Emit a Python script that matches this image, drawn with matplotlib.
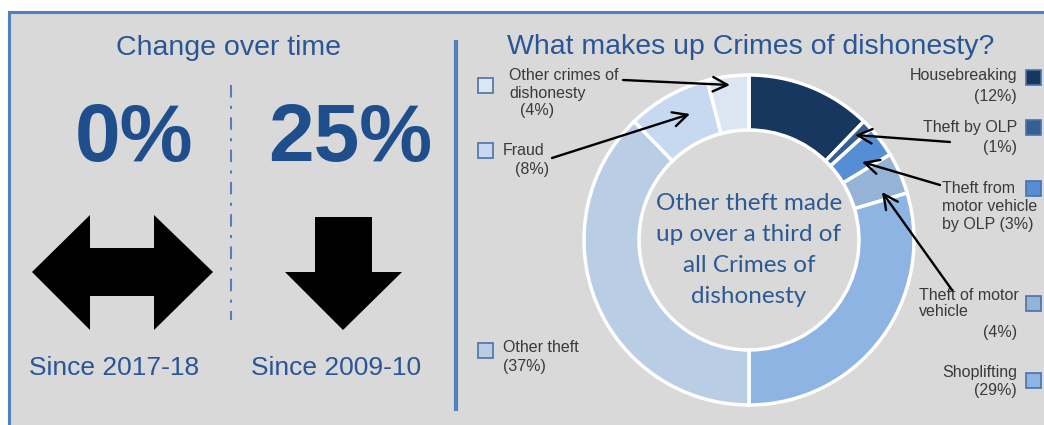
import matplotlib
matplotlib.use("Agg")
import matplotlib.pyplot as plt
from matplotlib.patches import Rectangle, Polygon

W, H = 1044, 425

# data
categories = ["Housebreaking", "Theft by OLP", "Theft from motor vehicle by OLP",
              "Theft of motor vehicle", "Shoplifting", "Other theft", "Fraud",
              "Other crimes of dishonesty"]
shares = [12, 1, 3, 4, 29, 37, 8, 4]
colours = ["#17375E", "#366092", "#558ED5", "#95B3D7", "#8DB4E2",
           "#B9CDE5", "#C6D9F1", "#DCE6F2"]
change_values = ["0%", "25%"]
change_periods = ["Since 2017-18", "Since 2009-10"]

BG = "#D9D9D9"
BORDER = "#4F81BD"
TITLE = "#2A5696"
BIG = "#1F4E8C"
LABEL = "#3A3A3A"

plt.rcParams['font.family'] = ['Liberation Sans', 'DejaVu Sans']

fig = plt.figure(figsize=(W / 100, H / 100), dpi=100, facecolor="white")
ax = fig.add_axes([0, 0, 1, 1])


def Y(y):
    # pixel rows from top -> data y
    return H - y


# panel
ax.add_patch(Rectangle((9, Y(440)), 1100, 428, facecolor=BG, edgecolor=BORDER, lw=2.2, zorder=0))
ax.plot([456, 456], [Y(40), Y(411)], color=BORDER, lw=3, solid_capstyle='butt', zorder=1)

# left part: change over time
ax.text(228, Y(48), "Change over time", ha='center', va='center', fontsize=20.5, color=TITLE)
ax.plot([231, 231], [Y(85), Y(320)], color=BORDER, lw=1.5, ls=(0, (6, 4, 1.5, 4)), zorder=1)
for cx, val, per in zip([134, 350], change_values, change_periods):
    ax.text(cx, Y(140), val, ha='center', va='center', fontsize=59, fontweight='bold', color=BIG)
    ax.text(cx - 20 if cx < 200 else cx - 14, Y(368), per, ha='center', va='center',
            fontsize=19, color=TITLE)

double_arrow = [(32, 272), (90, 215), (90, 248), (154, 248), (154, 215), (213, 272),
                (154, 330), (154, 296), (90, 296), (90, 330)]
down_arrow = [(315, 217), (372, 217), (372, 272), (402, 272), (343, 330), (285, 272), (315, 272)]
for pts in (double_arrow, down_arrow):
    ax.add_patch(Polygon([(x, Y(y)) for x, y in pts], closed=True, facecolor='black',
                         edgecolor='none', zorder=2))

# right part: donut
ax.text(751, Y(47), "What makes up Crimes of dishonesty?", ha='center', va='center',
        fontsize=20.5, color=TITLE)
cx, cy, r = 749, Y(240), 165
ax.pie(shares, colors=colours, center=(cx, cy), radius=r, startangle=90,
       counterclock=False, frame=True,
       wedgeprops=dict(width=55, edgecolor='white', linewidth=2.5))
ax.text(cx, Y(250), "Other theft made\nup over a third of\nall Crimes of\ndishonesty",
        ha='center', va='center', fontsize=17.5, family=['Lato', 'DejaVu Sans'],
        color="#2E5A93", linespacing=1.6, multialignment='center')

# legend squares
squares = [(1026, 70), (1026, 120), (1026, 181), (1026, 296), (1026, 373),
           (478, 343), (478, 143), (478, 78)]
for (sx, sy), col in zip(squares, colours):
    ax.add_patch(Rectangle((sx, Y(sy + 15)), 15, 15, facecolor=col, edgecolor="#4A72A8",
                           lw=1.2, zorder=3))

# labels (x, y, text, ha)
labels = [
    (1017, 75, "Housebreaking", 'right'), (1017, 96, "(12%)", 'right'),
    (1017, 127, "Theft by OLP", 'right'), (1017, 147, "(1%)", 'right'),
    (942, 188, "Theft from", 'left'), (942, 206, "motor vehicle", 'left'),
    (942, 224, "by OLP (3%)", 'left'),
    (919, 295, "Theft of motor", 'left'), (919, 312, "vehicle", 'left'),
    (1017, 332, "(4%)", 'right'),
    (1017, 372, "Shoplifting", 'right'), (1017, 390, "(29%)", 'right'),
    (503, 348, "Other theft", 'left'), (503, 367, "(37%)", 'left'),
    (503, 150, "Fraud", 'left'), (515, 169, "(8%)", 'left'),
    (509, 75, "Other crimes of", 'left'), (509, 93, "dishonesty", 'left'),
    (520, 110, "(4%)", 'left'),
]
for lx, ly, txt, ha in labels:
    ax.text(lx, Y(ly), txt, ha=ha, va='center', fontsize=11.5, color=LABEL)

# arrows from labels to slices
arrows = [((623, 80), (730, 85)), ((552, 158), (690, 114)), ((950, 142), (855, 135)),
          ((940, 185), (862, 162)), ((952, 290), (882, 192))]
for (x0, y0), (x1, y1) in arrows:
    ax.annotate('', xy=(x1, Y(y1)), xytext=(x0, Y(y0)),
                arrowprops=dict(arrowstyle='->', lw=1.7, color='black', shrinkA=0,
                                shrinkB=0, mutation_scale=26), zorder=4)

ax.set_xlim(0, W)
ax.set_ylim(0, H)
ax.set_aspect('auto')
ax.axis('off')

fig.savefig("out.png", dpi=100, facecolor="white")
